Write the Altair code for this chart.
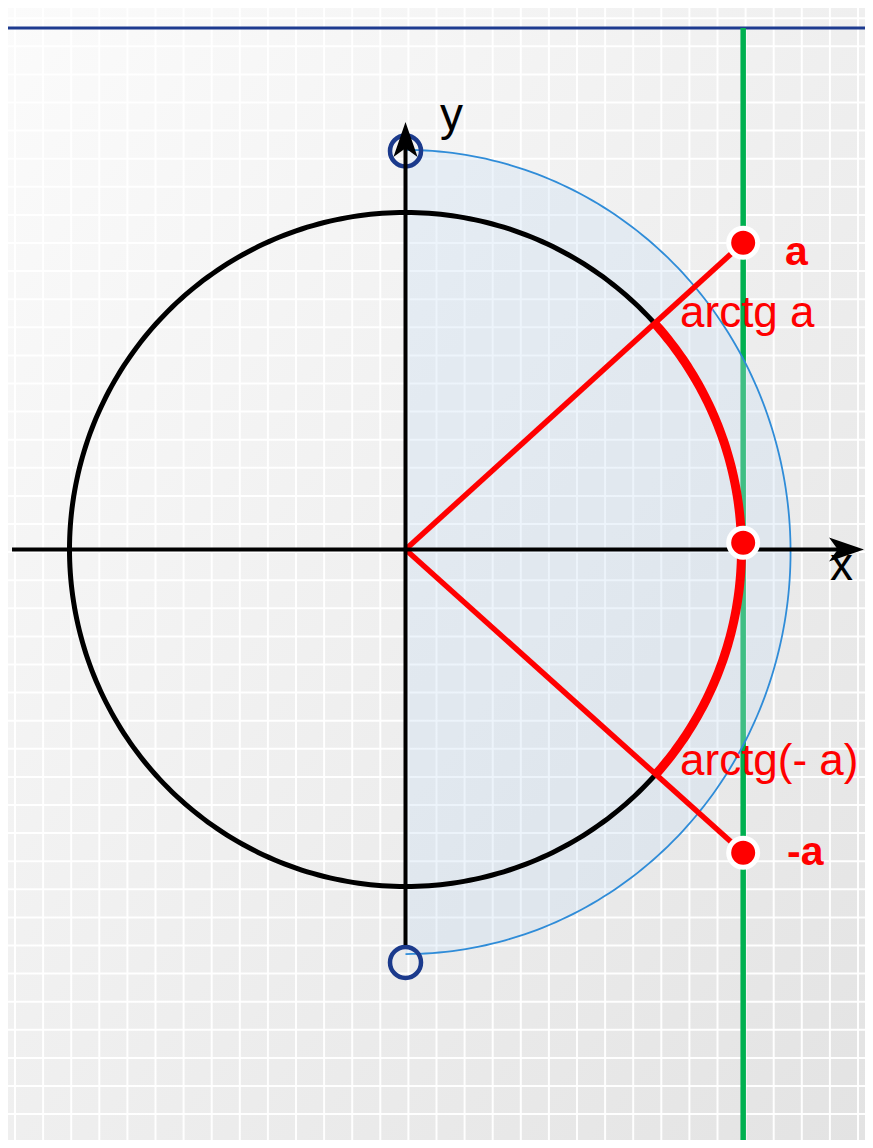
import numpy as np
import pandas as pd
import altair as alt

# ---------------- values (unit circle, radius 1) ----------------
tan_x = 1.005                  # tangent line x = 1
a_values = [0.91, -0.90]       # a and -a on the tangent line
axis_point_x = [1.005]         # the point (1, 0)
axis_point_y = [0.02]
ring_x = [0.0, 0.0]            # hollow end points of the half ellipse
ring_y = [1.1825, -1.2255]
ell_cy = -0.0074               # light blue half ellipse
ell_rx = 1.146
ell_ry = 1.193
top_line_y = 1.5475
x_axis_range = [-1.1711, 1.3125]
y_axis_range = [-1.1736, 1.2166]
label_text = ["y", "x", "arctg a", "arctg(- a)", "a", "-a"]
label_x = [0.1027, 1.2634, 0.8170, 0.8170, 1.1295, 1.1354]
label_y = [1.2448, -0.0905, 0.6602, -0.6691, 0.8442, -0.9362]

# ---------------- layout ----------------
W, H = 857, 1132
OX, OY = 397.5, 541.5          # origin in chart pixels
SX, SY = 336.0, 337.0          # pixels per unit
xs = alt.Scale(domain=[(0 - OX) / SX, (W - OX) / SX], nice=False, zero=False)
ys = alt.Scale(domain=[(OY - H) / SY, OY / SY], nice=False, zero=False)

def X(f):
    return alt.X(f, type="quantitative", scale=xs, axis=None)

def Y(f):
    return alt.Y(f, type="quantitative", scale=ys, axis=None)

one = pd.DataFrame({"k": [0]})

# background gradient
grad = alt.Gradient(
    gradient="linear",
    stops=[alt.GradientStop(color="#fbfbfb", offset=0),
           alt.GradientStop(color="#e3e3e3", offset=1)],
    x1=0, y1=0, x2=1, y2=1,
)
bg = alt.Chart(one).mark_rect(color=grad).encode(
    x=alt.value(0), x2=alt.value(W), y=alt.value(0), y2=alt.value(H)
)

# decorative white grid
gx = [(7 + 28.1 * k - OX) / SX for k in range(0, 31)]
gy = [(OY - (10.2 + 28.1 * k)) / SY for k in range(0, 41)]
grid_v = alt.Chart(pd.DataFrame({"gx": gx})).mark_rule(color="white", strokeWidth=2, opacity=0.95).encode(x=X("gx"))
grid_h = alt.Chart(pd.DataFrame({"gy": gy})).mark_rule(color="white", strokeWidth=2, opacity=0.95).encode(y=Y("gy"))

# top navy line
top_line = alt.Chart(pd.DataFrame({"y": [top_line_y]})).mark_rule(color="#1d3a8f", strokeWidth=3).encode(y=Y("y"))

# green tangent line
green = alt.Chart(pd.DataFrame({"x": [tan_x], "y": [ys.domain[0]], "y2": [top_line_y]})).mark_rule(
    color="#00b050", strokeWidth=5.5
).encode(x=X("x"), y=Y("y"), y2="y2")

# half ellipse
phi = np.linspace(np.pi / 2, -np.pi / 2, 181)
ell = pd.DataFrame({
    "x": ell_rx * np.cos(phi),
    "y": ell_cy + ell_ry * np.sin(phi),
    "x0": 0.0,
    "o": np.arange(len(phi)),
})
ell_fill = alt.Chart(ell).mark_area(orient="horizontal", color="rgb(200,222,242)", opacity=0.32).encode(
    y=Y("y"), x=X("x"), x2="x0"
)
ell_line = alt.Chart(ell).mark_line(color="#2f8cd8", strokeWidth=1.8).encode(
    x=X("x"), y=Y("y"), order="o:Q"
)

# unit circle
t = np.linspace(0, 2 * np.pi, 361)
circ = pd.DataFrame({"x": np.cos(t), "y": np.sin(t), "o": np.arange(len(t))})
circle = alt.Chart(circ).mark_line(color="black", strokeWidth=5).encode(
    x=X("x"), y=Y("y"), order="o:Q"
)

# axes
xaxis = alt.Chart(pd.DataFrame({"x": [x_axis_range[0]], "x2": [x_axis_range[1]], "y": [0.0]})).mark_rule(
    color="black", strokeWidth=4).encode(x=X("x"), x2="x2", y=Y("y"))
yaxis = alt.Chart(pd.DataFrame({"y": [y_axis_range[0]], "y2": [y_axis_range[1]], "x": [0.0]})).mark_rule(
    color="black", strokeWidth=4).encode(y=Y("y"), y2="y2", x=X("x"))
arrow_path = "M1,0 L-1,-0.69 L-0.5,0 L-1,0.69 Z"
arrows = alt.Chart(pd.DataFrame({
    "x": [x_axis_range[1], 0.0], "y": [0.0, y_axis_range[1]], "ang": [0, 270]
})).mark_point(shape=arrow_path, filled=True, color="black", size=1225, opacity=1).encode(
    x=X("x"), y=Y("y"), angle=alt.Angle("ang:Q", scale=None)
)

# red rays
rays = alt.Chart(pd.DataFrame({
    "x": [0.0, 0.0], "y": [0.0, 0.0], "x2": [tan_x, tan_x], "y2": a_values
})).mark_rule(color="#ff0000", strokeWidth=5.5).encode(x=X("x"), y=Y("y"), x2="x2", y2="y2")

# thick red arc between arctg(-a) and arctg a
th = np.linspace(np.arctan2(a_values[1], tan_x), np.arctan2(a_values[0], tan_x), 120)
arc = pd.DataFrame({"x": np.cos(th), "y": np.sin(th), "o": np.arange(len(th))})
red_arc = alt.Chart(arc).mark_line(color="#ff0000", strokeWidth=9).encode(
    x=X("x"), y=Y("y"), order="o:Q"
)

# hollow rings
rings = alt.Chart(pd.DataFrame({"x": ring_x, "y": ring_y})).mark_point(
    shape="circle", filled=False, size=961, strokeWidth=4.5, color="#1b3a8c", opacity=1
).encode(x=X("x"), y=Y("y"))

# red dots
dots_df = pd.DataFrame({"x": [tan_x, tan_x] + axis_point_x, "y": a_values + axis_point_y})
dots = alt.Chart(dots_df).mark_point(
    shape="circle", filled=True, size=841, fill="#ff0000", stroke="white", strokeWidth=5, opacity=1
).encode(x=X("x"), y=Y("y"))

# labels
lab = pd.DataFrame({"t": label_text, "x": label_x, "y": label_y})
font = "Liberation Sans"
lab_black = alt.Chart(lab.iloc[0:2]).mark_text(
    align="left", baseline="alphabetic", font=font, fontSize=46, color="black"
).encode(x=X("x"), y=Y("y"), text="t:N")
lab_red = alt.Chart(lab.iloc[2:4]).mark_text(
    align="left", baseline="alphabetic", font=font, fontSize=44, color="#ff0000"
).encode(x=X("x"), y=Y("y"), text="t:N")
lab_bold = alt.Chart(lab.iloc[4:6]).mark_text(
    align="left", baseline="alphabetic", font=font, fontSize=41, fontWeight="bold", color="#ff0000"
).encode(x=X("x"), y=Y("y"), text="t:N")

chart = alt.layer(
    bg, grid_v, grid_h, top_line, green, ell_fill, ell_line, circle,
    rays, red_arc, rings, xaxis, yaxis, arrows, dots,
    lab_black, lab_red, lab_bold,
).properties(
    width=W, height=H, padding=0, autosize=alt.AutoSizeParams(type="none"),
    background="#efefef",
).configure_view(stroke=None)

chart.save("out.html", embed_options={"renderer": "svg", "actions": False})
